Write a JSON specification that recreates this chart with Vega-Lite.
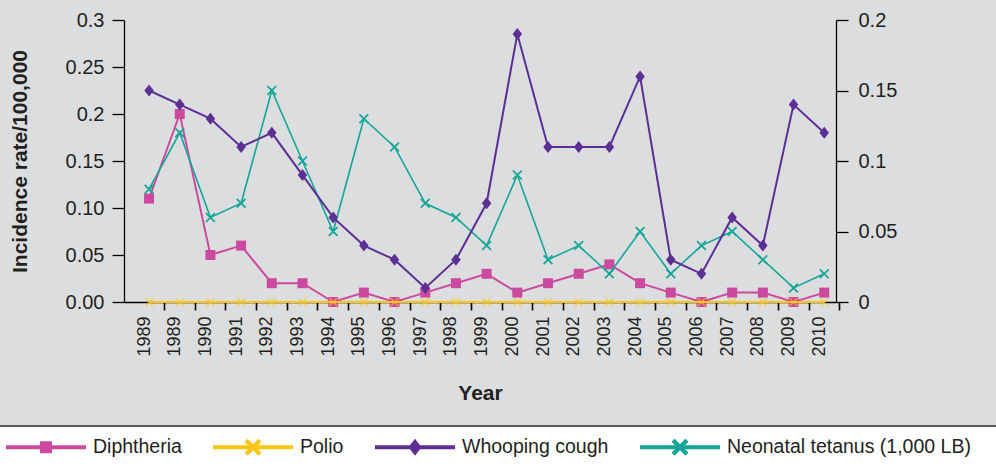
{
  "$schema": "https://vega.github.io/schema/vega-lite/v6.json",
  "width": 712,
  "height": 282,
  "autosize": {"type": "none"},
  "padding": {"left": 124, "top": 20, "right": 160, "bottom": 164},
  "background": "#dcdddf",
  "data": {
    "values": [
      {"Year": "1989", "Disease": "Diphtheria", "Rate": 0.11},
      {"Year": "1989b", "Disease": "Diphtheria", "Rate": 0.2},
      {"Year": "1990", "Disease": "Diphtheria", "Rate": 0.05},
      {"Year": "1991", "Disease": "Diphtheria", "Rate": 0.06},
      {"Year": "1992", "Disease": "Diphtheria", "Rate": 0.02},
      {"Year": "1993", "Disease": "Diphtheria", "Rate": 0.02},
      {"Year": "1994", "Disease": "Diphtheria", "Rate": 0},
      {"Year": "1995", "Disease": "Diphtheria", "Rate": 0.01},
      {"Year": "1996", "Disease": "Diphtheria", "Rate": 0},
      {"Year": "1997", "Disease": "Diphtheria", "Rate": 0.01},
      {"Year": "1998", "Disease": "Diphtheria", "Rate": 0.02},
      {"Year": "1999", "Disease": "Diphtheria", "Rate": 0.03},
      {"Year": "2000", "Disease": "Diphtheria", "Rate": 0.01},
      {"Year": "2001", "Disease": "Diphtheria", "Rate": 0.02},
      {"Year": "2002", "Disease": "Diphtheria", "Rate": 0.03},
      {"Year": "2003", "Disease": "Diphtheria", "Rate": 0.04},
      {"Year": "2004", "Disease": "Diphtheria", "Rate": 0.02},
      {"Year": "2005", "Disease": "Diphtheria", "Rate": 0.01},
      {"Year": "2006", "Disease": "Diphtheria", "Rate": 0},
      {"Year": "2007", "Disease": "Diphtheria", "Rate": 0.01},
      {"Year": "2008", "Disease": "Diphtheria", "Rate": 0.01},
      {"Year": "2009", "Disease": "Diphtheria", "Rate": 0},
      {"Year": "2010", "Disease": "Diphtheria", "Rate": 0.01},
      {"Year": "1989", "Disease": "Polio", "Rate": 0},
      {"Year": "1989b", "Disease": "Polio", "Rate": 0},
      {"Year": "1990", "Disease": "Polio", "Rate": 0},
      {"Year": "1991", "Disease": "Polio", "Rate": 0},
      {"Year": "1992", "Disease": "Polio", "Rate": 0},
      {"Year": "1993", "Disease": "Polio", "Rate": 0},
      {"Year": "1994", "Disease": "Polio", "Rate": 0},
      {"Year": "1995", "Disease": "Polio", "Rate": 0},
      {"Year": "1996", "Disease": "Polio", "Rate": 0},
      {"Year": "1997", "Disease": "Polio", "Rate": 0},
      {"Year": "1998", "Disease": "Polio", "Rate": 0},
      {"Year": "1999", "Disease": "Polio", "Rate": 0},
      {"Year": "2000", "Disease": "Polio", "Rate": 0},
      {"Year": "2001", "Disease": "Polio", "Rate": 0},
      {"Year": "2002", "Disease": "Polio", "Rate": 0},
      {"Year": "2003", "Disease": "Polio", "Rate": 0},
      {"Year": "2004", "Disease": "Polio", "Rate": 0},
      {"Year": "2005", "Disease": "Polio", "Rate": 0},
      {"Year": "2006", "Disease": "Polio", "Rate": 0},
      {"Year": "2007", "Disease": "Polio", "Rate": 0},
      {"Year": "2008", "Disease": "Polio", "Rate": 0},
      {"Year": "2009", "Disease": "Polio", "Rate": 0},
      {"Year": "2010", "Disease": "Polio", "Rate": 0},
      {"Year": "1989", "Disease": "Whooping cough", "Rate": 0.15},
      {"Year": "1989b", "Disease": "Whooping cough", "Rate": 0.14},
      {"Year": "1990", "Disease": "Whooping cough", "Rate": 0.13},
      {"Year": "1991", "Disease": "Whooping cough", "Rate": 0.11},
      {"Year": "1992", "Disease": "Whooping cough", "Rate": 0.12},
      {"Year": "1993", "Disease": "Whooping cough", "Rate": 0.09},
      {"Year": "1994", "Disease": "Whooping cough", "Rate": 0.06},
      {"Year": "1995", "Disease": "Whooping cough", "Rate": 0.04},
      {"Year": "1996", "Disease": "Whooping cough", "Rate": 0.03},
      {"Year": "1997", "Disease": "Whooping cough", "Rate": 0.01},
      {"Year": "1998", "Disease": "Whooping cough", "Rate": 0.03},
      {"Year": "1999", "Disease": "Whooping cough", "Rate": 0.07},
      {"Year": "2000", "Disease": "Whooping cough", "Rate": 0.19},
      {"Year": "2001", "Disease": "Whooping cough", "Rate": 0.11},
      {"Year": "2002", "Disease": "Whooping cough", "Rate": 0.11},
      {"Year": "2003", "Disease": "Whooping cough", "Rate": 0.11},
      {"Year": "2004", "Disease": "Whooping cough", "Rate": 0.16},
      {"Year": "2005", "Disease": "Whooping cough", "Rate": 0.03},
      {"Year": "2006", "Disease": "Whooping cough", "Rate": 0.02},
      {"Year": "2007", "Disease": "Whooping cough", "Rate": 0.06},
      {"Year": "2008", "Disease": "Whooping cough", "Rate": 0.04},
      {"Year": "2009", "Disease": "Whooping cough", "Rate": 0.14},
      {"Year": "2010", "Disease": "Whooping cough", "Rate": 0.12},
      {"Year": "1989", "Disease": "Neonatal tetanus (1,000 LB)", "Rate": 0.08},
      {"Year": "1989b", "Disease": "Neonatal tetanus (1,000 LB)", "Rate": 0.12},
      {"Year": "1990", "Disease": "Neonatal tetanus (1,000 LB)", "Rate": 0.06},
      {"Year": "1991", "Disease": "Neonatal tetanus (1,000 LB)", "Rate": 0.07},
      {"Year": "1992", "Disease": "Neonatal tetanus (1,000 LB)", "Rate": 0.15},
      {"Year": "1993", "Disease": "Neonatal tetanus (1,000 LB)", "Rate": 0.1},
      {"Year": "1994", "Disease": "Neonatal tetanus (1,000 LB)", "Rate": 0.05},
      {"Year": "1995", "Disease": "Neonatal tetanus (1,000 LB)", "Rate": 0.13},
      {"Year": "1996", "Disease": "Neonatal tetanus (1,000 LB)", "Rate": 0.11},
      {"Year": "1997", "Disease": "Neonatal tetanus (1,000 LB)", "Rate": 0.07},
      {"Year": "1998", "Disease": "Neonatal tetanus (1,000 LB)", "Rate": 0.06},
      {"Year": "1999", "Disease": "Neonatal tetanus (1,000 LB)", "Rate": 0.04},
      {"Year": "2000", "Disease": "Neonatal tetanus (1,000 LB)", "Rate": 0.09},
      {"Year": "2001", "Disease": "Neonatal tetanus (1,000 LB)", "Rate": 0.03},
      {"Year": "2002", "Disease": "Neonatal tetanus (1,000 LB)", "Rate": 0.04},
      {"Year": "2003", "Disease": "Neonatal tetanus (1,000 LB)", "Rate": 0.02},
      {"Year": "2004", "Disease": "Neonatal tetanus (1,000 LB)", "Rate": 0.05},
      {"Year": "2005", "Disease": "Neonatal tetanus (1,000 LB)", "Rate": 0.02},
      {"Year": "2006", "Disease": "Neonatal tetanus (1,000 LB)", "Rate": 0.04},
      {"Year": "2007", "Disease": "Neonatal tetanus (1,000 LB)", "Rate": 0.05},
      {"Year": "2008", "Disease": "Neonatal tetanus (1,000 LB)", "Rate": 0.03},
      {"Year": "2009", "Disease": "Neonatal tetanus (1,000 LB)", "Rate": 0.01},
      {"Year": "2010", "Disease": "Neonatal tetanus (1,000 LB)", "Rate": 0.02}
    ]
  },
  "encoding": {
    "x": {
      "field": "Year",
      "type": "nominal",
      "scale": {
        "type": "point",
        "domain": ["1989","1989b","1990","1991","1992","1993","1994","1995","1996","1997","1998","1999","2000","2001","2002","2003","2004","2005","2006","2007","2008","2009","2010"],
        "padding": 0.6,
        "align": 0.68
      },
      "axis": {
        "title": "Year",
        "labelExpr": "slice(datum.label, 0, 4)",
        "labelAngle": 270,
        "labelFontSize": 18,
        "labelPadding": 6,
        "tickSize": 8,
        "tickWidth": 1.6,
        "tickOffset": 15,
        "labelOffset": -20,
        "domainWidth": 1.5,
        "titleFontSize": 21,
        "titleFontWeight": "bold",
        "titlePadding": 26
      }
    },
    "color": {
      "field": "Disease",
      "type": "nominal",
      "scale": {
        "domain": ["Diphtheria", "Polio", "Whooping cough", "Neonatal tetanus (1,000 LB)"],
        "range": ["#cc4a9e", "#fcc515", "#5b2f94", "#14a696"]
      },
      "legend": {
        "title": "Disease",
        "titleOrient": "right",
        "titleFontSize": 1,
        "titleColor": "#ffffff",
        "titlePadding": 21,
        "orient": "none",
        "legendX": -128,
        "legendY": 406,
        "direction": "horizontal",
        "columns": 4,
        "gridAlign": "each",
        "columnPadding": 30,
        "padding": 10,
        "fillColor": "#ffffff",
        "strokeColor": "#5a5a5a",
        "symbolSize": 484,
        "symbolStrokeWidth": 0,
        "symbolOffset": 29,
        "labelOffset": 36,
        "labelFontSize": 19.5,
        "labelFont": "Liberation Sans",
        "labelColor": "#231f20",
        "labelLimit": 400,
        "encode": {
          "legend": {"update": {"strokeWidth": {"value": 2}}},
          "symbols": {
            "update": {
              "shape": {"signal": "datum.value === 'Diphtheria' ? 'M-3.64,-0.18H3.64V0.18H-3.64Z M-0.55,-0.55H0.55V0.55H-0.55Z' : datum.value === 'Whooping cough' ? 'M-3.64,-0.18H3.64V0.18H-3.64Z M0,-0.77L0.6,0L0,0.77L-0.6,0Z' : 'M-3.64,-0.18H3.64V0.18H-3.64Z M-0.77,-0.49L-0.49,-0.77L0,-0.28L0.49,-0.77L0.77,-0.49L0.28,0L0.77,0.49L0.49,0.77L0,0.28L-0.49,0.77L-0.77,0.49L-0.28,0Z'"},
              "fill": {"scale": "color", "field": "value"},
              "stroke": {"value": "transparent"},
              "strokeWidth": {"value": 0},
              "size": {"value": 484},
              "opacity": {"value": 1}
            }
          }
        }
      }
    }
  },
  "layer": [
    {
      "encoding": {
        "y": {
          "field": "Rate",
          "type": "quantitative",
          "scale": {"domain": [0, 0.3], "nice": false, "zero": true},
          "axis": {
            "title": "Incidence rate/100,000",
            "values": [0, 0.05, 0.1, 0.15, 0.2, 0.25, 0.3],
            "labelExpr": "datum.value === 0 ? '0.00' : abs(datum.value - 0.05) < 0.000001 ? '0.05' : abs(datum.value - 0.1) < 0.000001 ? '0.10' : format(datum.value, '~g')",
            "tickSize": 12,
            "tickWidth": 1.3,
            "domainWidth": 1.3,
            "labelFontSize": 20,
            "labelPadding": 8,
            "titleFontSize": 21,
            "titleFontWeight": "bold",
            "titlePadding": 35
          }
        }
      },
      "layer": [
        {
          "transform": [{"filter": "datum.Disease === 'Diphtheria'"}],
          "mark": {"type": "line", "strokeWidth": 2}
        },
        {
          "transform": [{"filter": "datum.Disease === 'Diphtheria'"}],
          "mark": {"type": "point", "shape": "square", "filled": true, "size": 100, "opacity": 1}
        },
        {
          "transform": [{"filter": "datum.Disease === 'Polio'"}],
          "mark": {"type": "line", "strokeWidth": 2}
        },
        {
          "transform": [{"filter": "datum.Disease === 'Polio'"}],
          "mark": {"type": "point", "shape": "M-1,-0.75L-0.75,-1L0,-0.25L0.75,-1L1,-0.75L0.25,0L1,0.75L0.75,1L0,0.25L-0.75,1L-1,0.75L-0.25,0Z", "filled": true, "size": 81, "opacity": 0.6}
        }
      ]
    },
    {
      "encoding": {
        "y": {
          "field": "Rate",
          "type": "quantitative",
          "scale": {"domain": [0, 0.2], "nice": false, "zero": true},
          "axis": {
            "orient": "right",
            "title": null,
            "values": [0, 0.05, 0.1, 0.15, 0.2],
            "labelExpr": "format(datum.value, '~g')",
            "tickSize": 12,
            "tickWidth": 1.3,
            "domainWidth": 1.3,
            "labelFontSize": 20,
            "labelPadding": 10
          }
        }
      },
      "layer": [
        {
          "transform": [{"filter": "datum.Disease === 'Neonatal tetanus (1,000 LB)'"}],
          "mark": {"type": "line", "strokeWidth": 1.6}
        },
        {
          "transform": [{"filter": "datum.Disease === 'Neonatal tetanus (1,000 LB)'"}],
          "mark": {"type": "point", "shape": "M-1,-0.75L-0.75,-1L0,-0.25L0.75,-1L1,-0.75L0.25,0L1,0.75L0.75,1L0,0.25L-0.75,1L-1,0.75L-0.25,0Z", "filled": true, "size": 100, "opacity": 1}
        },
        {
          "transform": [{"filter": "datum.Disease === 'Whooping cough'"}],
          "mark": {"type": "line", "strokeWidth": 2}
        },
        {
          "transform": [{"filter": "datum.Disease === 'Whooping cough'"}],
          "mark": {"type": "point", "shape": "M0,-1.2L0.95,0L0,1.2L-0.95,0Z", "filled": true, "size": 100, "opacity": 1}
        }
      ]
    }
  ],
  "resolve": {"scale": {"y": "independent"}},
  "config": {
    "font": "Liberation Sans",
    "view": {"stroke": null},
    "axis": {
      "grid": false,
      "domainColor": "#000000",
      "tickColor": "#000000",
      "labelColor": "#231f20",
      "titleColor": "#231f20",
      "labelFont": "Liberation Sans",
      "titleFont": "Liberation Sans"
    }
  }
}
